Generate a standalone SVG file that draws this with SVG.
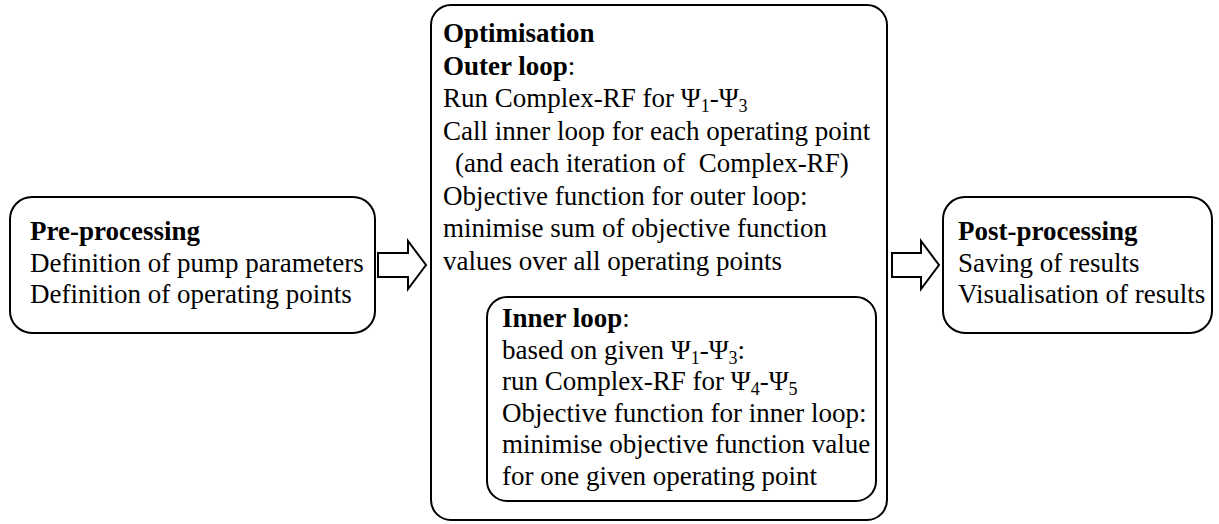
<svg xmlns="http://www.w3.org/2000/svg" width="1219" height="524" viewBox="0 0 1219 524">
<style>
.box{fill:#fff;stroke:#000;stroke-width:2}
.arr{fill:#fff;stroke:#000;stroke-width:2;stroke-linejoin:miter}
text{font-family:"Liberation Serif","Times New Roman",serif;font-size:27px;fill:#000}
.b{font-weight:bold}
.s{font-size:18px}
</style>
<rect width="1219" height="524" fill="#fff"/>
<g id="connectors">
<polygon class="arr" points="378,253 408,253 408,241 426,265 408,289 408,277 378,277"/>
<polygon class="arr" points="892,253 921,253 921,241 939,265 921,289 921,277 892,277"/>
</g>
<g id="pre">
<rect class="box" x="10" y="197" width="365" height="136" rx="22"/>
<text x="30" y="240" class="b">Pre-processing</text>
<text x="30" y="271.5">Definition of pump parameters</text>
<text x="30" y="303">Definition of operating points</text>
</g>
<g id="opt">
<rect class="box" x="431" y="5" width="456" height="515" rx="20"/>
<text x="443" y="42" class="b">Optimisation</text>
<text x="443" y="74.5"><tspan class="b">Outer loop</tspan>:</text>
<text x="443" y="107">Run Complex-RF for Ψ<tspan class="s" dy="5">1</tspan><tspan dy="-5">-Ψ</tspan><tspan class="s" dy="5">3</tspan></text>
<text x="443" y="139.5">Call inner loop for each operating point</text>
<text x="455" y="172" xml:space="preserve">(and each iteration of  Complex-RF)</text>
<text x="443" y="204.5">Objective function for outer loop:</text>
<text x="443" y="237">minimise sum of objective function</text>
<text x="443" y="269.5">values over all operating points</text>
</g>
<g id="inner">
<rect class="box" x="487" y="297" width="389" height="204" rx="20"/>
<text x="502" y="327"><tspan class="b">Inner loop</tspan>:</text>
<text x="502" y="358.5">based on given Ψ<tspan class="s" dy="5">1</tspan><tspan dy="-5">-Ψ</tspan><tspan class="s" dy="5">3</tspan><tspan dy="-5">:</tspan></text>
<text x="502" y="390">run Complex-RF for Ψ<tspan class="s" dy="5">4</tspan><tspan dy="-5">-Ψ</tspan><tspan class="s" dy="5">5</tspan></text>
<text x="502" y="421.5">Objective function for inner loop:</text>
<text x="502" y="453">minimise objective function value</text>
<text x="502" y="484.5">for one given operating point</text>
</g>
<g id="post">
<rect class="box" x="943" y="197" width="269" height="136" rx="22"/>
<text x="958" y="240" class="b">Post-processing</text>
<text x="958" y="271.5">Saving of results</text>
<text x="958" y="303">Visualisation of results</text>
</g>
</svg>
